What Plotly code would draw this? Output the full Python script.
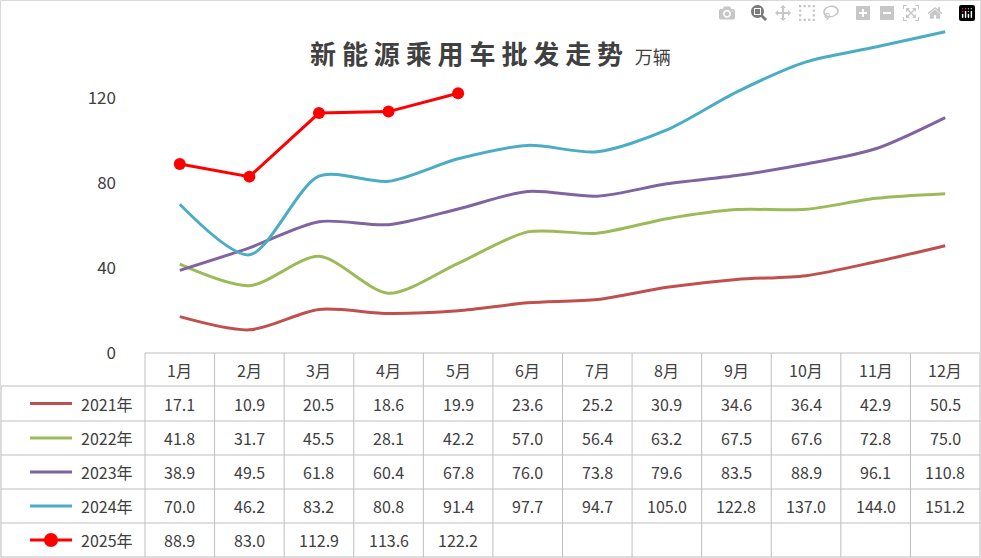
import plotly.graph_objects as go

months = ["1月", "2月", "3月", "4月", "5月", "6月", "7月", "8月", "9月", "10月", "11月", "12月"]
years = ["2021年", "2022年", "2023年", "2024年", "2025年"]
v2021 = [17.1, 10.9, 20.5, 18.6, 19.9, 23.6, 25.2, 30.9, 34.6, 36.4, 42.9, 50.5]
v2022 = [41.8, 31.7, 45.5, 28.1, 42.2, 57.0, 56.4, 63.2, 67.5, 67.6, 72.8, 75.0]
v2023 = [38.9, 49.5, 61.8, 60.4, 67.8, 76.0, 73.8, 79.6, 83.5, 88.9, 96.1, 110.8]
v2024 = [70.0, 46.2, 83.2, 80.8, 91.4, 97.7, 94.7, 105.0, 122.8, 137.0, 144.0, 151.2]
v2025 = [88.9, 83.0, 112.9, 113.6, 122.2]
colors = ["#C0504D", "#9BBB59", "#8064A2", "#4BACC6", "#FF0000"]
series = [v2021, v2022, v2023, v2024, v2025]

W, H = 981, 558
L, R, T, B = 145, 980, 13, 353

def px(x):
    return (x - L) / (R - L)

def py(y):
    return (B - y) / (B - T)

fig = go.Figure()
for i, (name, vals, c) in enumerate(zip(years, series, colors)):
    if i < 4:
        fig.add_trace(go.Scatter(x=months[:len(vals)], y=vals, mode="lines", name=name,
                                 line=dict(color=c, width=3, shape="spline", smoothing=0.8)))
    else:
        fig.add_trace(go.Scatter(x=months[:len(vals)], y=vals, mode="lines+markers", name=name,
                                 line=dict(color=c, width=3), marker=dict(size=12, color=c)))

shapes = []
annos = []
grid = dict(color="#BFBFBF", width=1)
colw = (R - L) / 12
row_edges = [353, 386, 421, 455, 489, 523, 557]
# horizontal lines
for j, ye in enumerate(row_edges):
    x0 = L if j == 0 else 1
    shapes.append(dict(type="line", xref="paper", yref="paper", x0=px(x0), x1=px(R),
                       y0=py(ye), y1=py(ye), line=grid))
# vertical lines
for k in range(13):
    xe = L + k * colw
    shapes.append(dict(type="line", xref="paper", yref="paper", x0=px(xe), x1=px(xe),
                       y0=py(353), y1=py(557), line=grid))
shapes.append(dict(type="line", xref="paper", yref="paper", x0=px(1), x1=px(1),
                   y0=py(386), y1=py(557), line=grid))

tf = dict(family="Noto Sans CJK SC", size=16, color="#404040")

def cell(x, y, text, font=tf):
    annos.append(dict(x=px(x), y=py(y), xref="paper", yref="paper", text=text,
                      xanchor="center", yanchor="middle", showarrow=False, font=font))

for k, m in enumerate(months):
    cell(L + (k + 0.5) * colw, 370, m)
for i, (name, vals, c) in enumerate(zip(years, series, colors)):
    cy = (row_edges[i + 1] + row_edges[i + 2]) / 2
    shapes.append(dict(type="line", xref="paper", yref="paper", x0=px(30), x1=px(72),
                       y0=py(cy), y1=py(cy), line=dict(color=c, width=3)))
    if i == 4:
        shapes.append(dict(type="circle", xref="paper", yref="paper", x0=px(45), x1=px(57),
                           y0=py(cy - 6), y1=py(cy + 6), fillcolor=c, line=dict(color=c)))
    cell(107, cy, name)
    for k, v in enumerate(vals):
        cell(L + (k + 0.5) * colw, cy, f"{v:.1f}")

cell(490, 52, "<b>新 能 源 乘 用 车 批 发 走 势</b>  <span style='font-size:18px'>万辆</span>",
     dict(family="Noto Sans CJK SC", size=26, color="#404040"))
shapes.append(dict(type="rect", xref="paper", yref="paper", x0=px(0.5), x1=px(980.5),
                   y0=py(0.5), y1=py(557.5), line=dict(color="#D9D9D9", width=1)))

fig.update_layout(
    width=W, height=H, margin=dict(l=L, r=W - R, t=T, b=H - B),
    plot_bgcolor="white", paper_bgcolor="white", showlegend=False,
    shapes=shapes, annotations=annos,
    xaxis=dict(range=[-0.5, 11.5], showticklabels=False, showgrid=False, zeroline=False),
    yaxis=dict(range=[0, 160], tickvals=[0, 40, 80, 120, 160], showgrid=False, zeroline=False,
               ticklabelstandoff=28,
               tickfont=dict(family="Noto Sans CJK SC", size=17, color="#404040")),
)
fig.write_html("out.html", post_script="document.body.style.margin='0';")
